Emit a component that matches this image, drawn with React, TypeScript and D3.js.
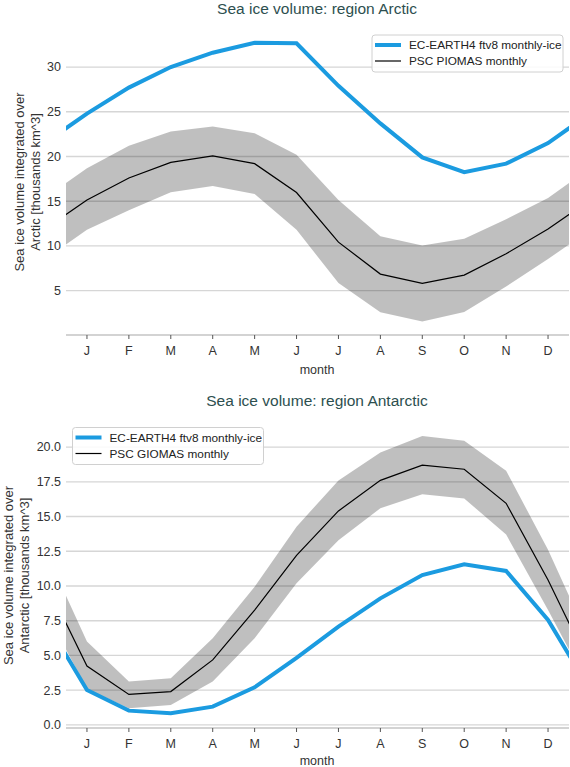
import React from "react";
import * as d3 from "d3";

const months = ["J", "F", "M", "A", "M", "J", "J", "A", "S", "O", "N", "D"];

// Arctic
const arcticModel = [24.8, 27.7, 30.0, 31.6, 32.7, 32.65, 27.9, 23.7, 19.9, 18.25, 19.2, 21.5];
const arcticObs = [15.15, 17.6, 19.35, 20.07, 19.2, 15.97, 10.43, 6.86, 5.82, 6.75, 9.13, 11.9];
const arcticObsHigh = [18.7, 21.2, 22.8, 23.35, 22.6, 20.2, 15.15, 11.1, 10.05, 10.8, 13.0, 15.35];
const arcticObsLow = [11.8, 14.0, 16.0, 16.7, 15.8, 11.8, 5.86, 2.58, 1.57, 2.62, 5.48, 8.54];
const arcticTicks = [5, 10, 15, 20, 25, 30];

// Antarctic
const antarcticModel = [2.52, 1.03, 0.84, 1.32, 2.71, 4.82, 7.07, 9.11, 10.79, 11.56, 11.08, 7.55];
const antarcticObs = [4.24, 2.2, 2.4, 4.68, 8.27, 12.2, 15.4, 17.6, 18.7, 18.4, 15.95, 10.43];
const antarcticObsHigh = [6.0, 3.12, 3.36, 6.24, 9.95, 14.27, 17.6, 19.6, 20.8, 20.45, 18.3, 12.6];
const antarcticObsLow = [2.6, 1.2, 1.44, 3.12, 6.24, 10.2, 13.3, 15.6, 16.6, 16.3, 13.7, 8.27];
const antarcticTicks = [0, 2.5, 5, 7.5, 10, 12.5, 15, 17.5, 20];

const BLUE = "#1b9be0";
const FONT = "'Liberation Sans', Arial, sans-serif";

type PanelProps = {
  id: string;
  title: string;
  titleY: number;
  top: number;
  bottom: number;
  domain: [number, number];
  ticks: number[];
  tickFmt: (v: number) => string;
  model: number[];
  obs: number[];
  hi: number[];
  lo: number[];
  ylabel2: string;
  ylabelX: [number, number];
  obsLabel: string;
  legend: { x: number; y: number; w: number; h: number };
  xlabelY: number;
};

function wrap(arr: number[]): [number, number][] {
  const pts: [number, number][] = [[0, arr[11]]];
  arr.forEach((v, i) => pts.push([i + 1, v]));
  pts.push([13, arr[0]]);
  return pts;
}

function Panel(p: PanelProps) {
  const left = 66;
  const right = 569;
  const x = d3.scaleLinear().domain([0.5, 12.5]).range([left, right]);
  const y = d3.scaleLinear().domain(p.domain).range([p.bottom, p.top]);
  const line = d3
    .line<[number, number]>()
    .x((d) => x(d[0]))
    .y((d) => y(d[1]));
  const hiW = wrap(p.hi);
  const loW = wrap(p.lo);
  const bandPts = hiW.map((d, i) => ({ m: d[0], h: d[1], l: loW[i][1] }));
  const area = d3
    .area<{ m: number; h: number; l: number }>()
    .x((d) => x(d.m))
    .y0((d) => y(d.l))
    .y1((d) => y(d.h));
  const clipId = "clip-" + p.id;
  const midY = (p.top + p.bottom) / 2;
  const lg = p.legend;
  return (
    <g>
      <defs>
        <clipPath id={clipId}>
          <rect x={left} y={p.top} width={right - left} height={p.bottom - p.top} />
        </clipPath>
      </defs>
      <text x={317} y={p.titleY} textAnchor="middle" fontSize={15.5} fill="#2d4f4f" fontFamily={FONT}>
        {p.title}
      </text>
      {p.ticks.map((t) => (
        <g key={t}>
          <line x1={left} x2={right} y1={y(t)} y2={y(t)} stroke="#d6d6d6" strokeWidth={1.3} />
          <text x={61} y={y(t) + 4.3} textAnchor="end" fontSize={12.5} fill="#333" fontFamily={FONT}>
            {p.tickFmt(t)}
          </text>
        </g>
      ))}
      <line x1={left} x2={right} y1={p.bottom} y2={p.bottom} stroke="#c4c4c4" strokeWidth={1.3} />
      {months.map((m, i) => (
        <g key={i}>
          <line x1={x(i + 1)} x2={x(i + 1)} y1={p.bottom} y2={p.bottom + 4} stroke="#555" strokeWidth={1} />
          <text x={x(i + 1)} y={p.bottom + 20} textAnchor="middle" fontSize={12.5} fill="#333" fontFamily={FONT}>
            {m}
          </text>
        </g>
      ))}
      <text x={317} y={p.xlabelY} textAnchor="middle" fontSize={12.5} fill="#333" fontFamily={FONT}>
        month
      </text>
      <g transform={`translate(0,${midY}) rotate(-90)`}>
        <text x={0} y={p.ylabelX[0]} textAnchor="middle" fontSize={13} fill="#333" fontFamily={FONT}>
          Sea ice volume integrated over
        </text>
        <text x={0} y={p.ylabelX[1]} textAnchor="middle" fontSize={13} fill="#333" fontFamily={FONT}>
          {p.ylabel2}
        </text>
      </g>
      <g clipPath={`url(#${clipId})`}>
        <path d={area(bandPts) || ""} fill="#000" fillOpacity={0.25} />
        <path d={line(wrap(p.obs)) || ""} fill="none" stroke="#000" strokeWidth={1.2} />
        <path d={line(wrap(p.model)) || ""} fill="none" stroke={BLUE} strokeWidth={4} />
      </g>
      <rect x={lg.x} y={lg.y} width={lg.w} height={lg.h} rx={3} fill="#fff" fillOpacity={0.85} stroke="#d0d0d0" strokeWidth={1} />
      <line x1={lg.x + 3} x2={lg.x + 29} y1={lg.y + 10} y2={lg.y + 10} stroke={BLUE} strokeWidth={4} />
      <text x={lg.x + 37} y={lg.y + 14} fontSize={11.8} fill="#222" fontFamily={FONT}>
        EC-EARTH4 ftv8 monthly-ice
      </text>
      <line x1={lg.x + 3} x2={lg.x + 29} y1={lg.y + 26} y2={lg.y + 26} stroke="#000" strokeWidth={1.2} />
      <text x={lg.x + 37} y={lg.y + 30} fontSize={11.8} fill="#222" fontFamily={FONT}>
        {p.obsLabel}
      </text>
    </g>
  );
}

export default function App() {
  return (
    <svg
      width={570}
      height={767}
      style={{ position: "absolute", left: 0, top: 0, background: "#fff" }}
    >
      <rect width={570} height={767} fill="#fff" />
      <Panel
        id="arctic"
        title="Sea ice volume: region Arctic"
        titleY={13.5}
        top={29}
        bottom={335}
        domain={[0.05, 34.25]}
        ticks={arcticTicks}
        tickFmt={(v) => String(v)}
        model={arcticModel}
        obs={arcticObs}
        hi={arcticObsHigh}
        lo={arcticObsLow}
        ylabel2="Arctic [thousands km^3]"
        ylabelX={[24, 40]}
        obsLabel="PSC PIOMAS monthly"
        legend={{ x: 372, y: 35, w: 191, h: 37 }}
        xlabelY={374}
      />
      <Panel
        id="antarctic"
        title="Sea ice volume: region Antarctic"
        titleY={406}
        top={423}
        bottom={728}
        domain={[-0.22, 21.73]}
        ticks={antarcticTicks}
        tickFmt={(v) => v.toFixed(1)}
        model={antarcticModel}
        obs={antarcticObs}
        hi={antarcticObsHigh}
        lo={antarcticObsLow}
        ylabel2="Antarctic [thousands km^3]"
        ylabelX={[12.5, 28.5]}
        obsLabel="PSC GIOMAS monthly"
        legend={{ x: 72.5, y: 427.5, w: 191, h: 37 }}
        xlabelY={765}
      />
    </svg>
  );
}
